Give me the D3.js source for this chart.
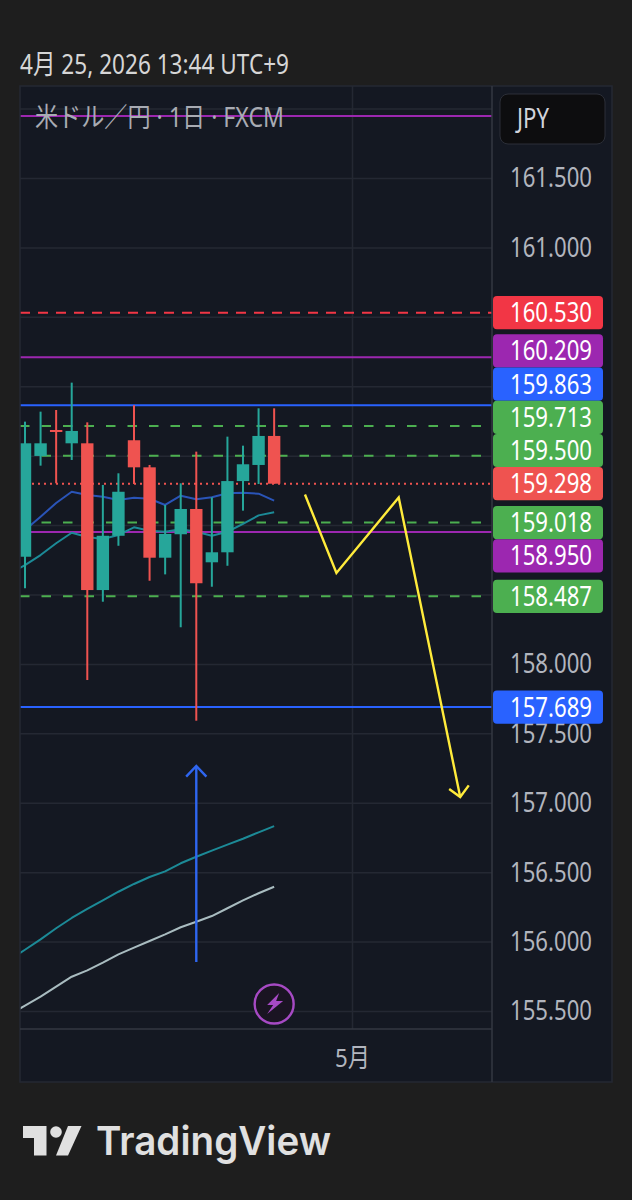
<!DOCTYPE html>
<html>
<head>
<meta charset="utf-8">
<script src="https://cdn.jsdelivr.net/npm/d3@7"></script>
<style>
  html, body { margin: 0; padding: 0; background: #1e1e1e; }
  svg { display: block; }
  text { font-family: "Noto Sans", "Noto Sans CJK JP", sans-serif; }
</style>
</head>
<body>
<div id="chart"></div>
<script>
// candles, oldest first (daily USD/JPY)
const opens  = [158.772, 159.498, 159.685, 159.589, 159.589, 158.532, 158.923, 159.611, 159.416, 158.765, 158.934, 159.116, 158.732, 158.804, 159.317, 159.433, 159.642];
const highs  = [159.745, 159.817, 159.829, 160.026, 159.740, 159.289, 159.373, 159.863, 159.433, 159.145, 159.301, 159.529, 159.200, 159.637, 159.572, 159.841, 159.841];
const lows   = [158.545, 159.428, 159.301, 159.469, 157.884, 158.448, 158.851, 159.296, 158.599, 158.645, 158.264, 157.591, 158.556, 158.707, 159.104, 159.296, 159.298];
const closes = [159.589, 159.589, 159.678, 159.678, 158.532, 158.923, 159.240, 159.416, 158.765, 158.936, 159.116, 158.581, 158.804, 159.317, 159.438, 159.642, 159.298];

// moving averages; the ones starting at -1 run off the left edge of the pane
const maBlue = [158.965, 159.060, 159.159, 159.240, 159.217, 159.204, 159.181, 159.197, 159.190, 159.145, 159.212, 159.186, 159.200, 159.229, 159.233, 159.226, 159.176];
const maTeal = [158.648, 158.712, 158.784, 158.869, 158.945, 158.914, 158.900, 158.929, 158.984, 158.959, 158.952, 158.970, 158.952, 158.923, 158.952, 159.008, 159.070, 159.092];
const maLong = [155.869, 155.941, 156.016, 156.096, 156.170, 156.235, 156.297, 156.359, 156.415, 156.465, 156.506, 156.564, 156.611, 156.655, 156.698, 156.741, 156.787, 156.832];
const maGray = [155.476, 155.538, 155.603, 155.675, 155.747, 155.793, 155.848, 155.908, 155.956, 156.004, 156.052, 156.103, 156.143, 156.184, 156.240, 156.297, 156.348, 156.395];

const gridPrices = [155.5, 156, 156.5, 157, 157.5, 158, 158.5, 159, 159.5, 160, 160.5, 161, 161.5, 162];
const tickPrices = [155.5, 156, 156.5, 157, 157.5, 158, 161, 161.5];

const linePrices = [161.947, 160.530, 160.209, 159.863, 159.713, 159.500, 159.298, 159.018, 158.950, 158.487, 157.689];
const lineKinds  = ["purple", "red", "purple", "blue", "green", "green", "last", "green", "purple", "green", "blue"];
const lastPrice = 159.298;

// hand drawn lines as [bar index, price]
const zigzag = [[17.98, 159.220], [20, 158.655], [24, 159.199], [27.95, 157.041]];
const zigzagHead = [[27.24, 157.099], [27.95, 157.041], [28.5, 157.125]];
const upArrow = [[11, 155.853], [11, 157.265]];
const upArrowHead = [[10.35, 157.188], [11, 157.265], [11.65, 157.188]];

const monthIndex = 21;
const monthLabel = "5月";
const eventIndex = 16;

const colors = {
  purple: "#9c27b0", red: "#f23645", blue: "#2962ff", green: "#4caf50", last: "#ef5350",
  up: "#26a69a", down: "#ef5350", grid: "#242833", border: "#333742", tick: "#b2b5be"
};

const W = 632, H = 1200;
const paneLeft = 20, paneRight = 612, paneTop = 86, paneBottom = 1082, axisX = 492, axisY = 1029;

const svg = d3.select("#chart").append("svg").attr("width", W).attr("height", H);

const x = d3.scaleLinear().domain([0, monthIndex]).range([25, 352]);
const y = d3.scaleLinear().domain([155.5, 161.5]).range([1011, 178]);

// squeezes text to the width it has in the picture
const fit = (sel, w) => sel.attr("textLength", w).attr("lengthAdjust", "spacingAndGlyphs");

svg.append("rect").attr("x", paneLeft).attr("y", paneTop).attr("width", paneRight - paneLeft).attr("height", paneBottom - paneTop).attr("fill", "#141822");

svg.append("clipPath").attr("id", "pane").append("rect")
  .attr("x", paneLeft).attr("y", paneTop).attr("width", axisX - paneLeft).attr("height", axisY - paneTop);

const pane = svg.append("g").attr("clip-path", "url(#pane)");

// grid
const gridY = pane.append("g").attr("transform", `translate(${paneLeft},0)`)
  .call(d3.axisRight(y).tickValues(gridPrices).tickSize(axisX - paneLeft).tickFormat(""));
gridY.select(".domain").remove();
gridY.selectAll("line").attr("stroke", colors.grid).attr("stroke-width", 1.5);

const gridX = pane.append("g").attr("transform", `translate(0,${paneTop})`)
  .call(d3.axisBottom(x).tickValues([monthIndex]).tickSize(axisY - paneTop).tickFormat(""));
gridX.select(".domain").remove();
gridX.selectAll("line").attr("stroke", colors.grid).attr("stroke-width", 1.5);

// horizontal price lines
const dashes = { green: "9.5 12", red: "10 8", last: "2 4" };
pane.append("g").selectAll("line").data(linePrices).join("line")
  .attr("x1", paneLeft).attr("x2", axisX)
  .attr("y1", d => y(d)).attr("y2", d => y(d))
  .attr("stroke", (d, i) => colors[lineKinds[i]])
  .attr("stroke-width", 2)
  .attr("stroke-dasharray", (d, i) => dashes[lineKinds[i]] || null);

// moving averages
const maLine = d3.line().x(d => x(d[0])).y(d => y(d[1])).curve(d3.curveLinear);
const addMa = (values, start, color, width) => pane.append("path")
  .datum(values.map((v, i) => [i + start, v]))
  .attr("d", maLine).attr("fill", "none").attr("stroke", color)
  .attr("stroke-width", width).attr("stroke-linejoin", "round");

addMa(maLong, -1, "#1c8a97", 2);
addMa(maGray, -1, "#a9bcc0", 2);
addMa(maBlue, 0, "#2a54b8", 2);
addMa(maTeal, -1, "#1c8a97", 2);

// candles
const bars = pane.append("g").selectAll("g").data(opens).join("g")
  .attr("fill", (d, i) => closes[i] >= d ? colors.up : colors.down);
bars.append("rect")
  .attr("x", (d, i) => x(i) - 1).attr("width", 2)
  .attr("y", (d, i) => y(highs[i]))
  .attr("height", (d, i) => y(lows[i]) - y(highs[i]));
bars.append("rect")
  .attr("x", (d, i) => x(i) - 6.2).attr("width", 12.4)
  .attr("y", (d, i) => y(Math.max(d, closes[i])))
  .attr("height", (d, i) => Math.max(2, Math.abs(y(d) - y(closes[i]))));

// hand drawn arrows
const drawLine = d3.line().x(d => x(d[0])).y(d => y(d[1]));
const addDrawing = (pts, color) => svg.append("path").attr("d", drawLine(pts))
  .attr("fill", "none").attr("stroke", color).attr("stroke-width", 2.4).attr("stroke-linejoin", "miter");

addDrawing(upArrow, "#2f66f0");
addDrawing(upArrowHead, "#2f66f0");
addDrawing(zigzag, "#ffeb3b");
addDrawing(zigzagHead, "#ffeb3b");

// event marker on the last bar
const eventMark = svg.append("g").attr("transform", `translate(${x(eventIndex)},1004)`);
eventMark.append("circle").attr("r", 19.5).attr("fill", "#1a1422").attr("stroke", "#a64ac4").attr("stroke-width", 2.4);
eventMark.append("path")
  .attr("d", "M5 -11 L-7 1 L-1 1 L-7 10 L9 -3 L2 -3 Z")
  .attr("fill", "#a64ac4");

// frame
svg.append("rect").attr("x", paneLeft).attr("y", paneTop).attr("width", paneRight - paneLeft).attr("height", paneBottom - paneTop)
  .attr("fill", "none").attr("stroke", colors.grid).attr("stroke-width", 1.5);
svg.append("line").attr("x1", axisX).attr("x2", axisX).attr("y1", paneTop).attr("y2", paneBottom).attr("stroke", colors.border).attr("stroke-width", 1.5);
svg.append("line").attr("x1", paneLeft).attr("x2", axisX).attr("y1", axisY).attr("y2", axisY).attr("stroke", colors.border).attr("stroke-width", 1.5);

// price axis
const yAxis = svg.append("g").attr("transform", "translate(592,0)")
  .call(d3.axisLeft(y).tickValues(tickPrices).tickSize(0).tickPadding(0).tickFormat(d3.format(".3f")));
yAxis.select(".domain").remove();
yAxis.selectAll("text").attr("fill", colors.tick).attr("font-size", 28);
yAxis.attr("font-family", null);
fit(yAxis.selectAll("text"), 82);

// time axis
const xAxis = svg.append("g").attr("transform", "translate(0,1049)")
  .call(d3.axisBottom(x).tickValues([monthIndex]).tickSize(0).tickPadding(0).tickFormat(() => monthLabel));
xAxis.select(".domain").remove();
xAxis.selectAll("text").attr("fill", colors.tick).attr("font-size", 26);
xAxis.attr("font-family", null);
fit(xAxis.selectAll("text"), 35);

// price labels: spread away from the last price so they do not overlap
const labelH = 33.2;
const labelData = linePrices.map((p, i) => ({ price: p, kind: lineKinds[i], pos: y(p) })).filter(d => d.pos > paneTop + 60);
const above = labelData.filter(d => d.price >= lastPrice).sort((a, b) => a.price - b.price);
const below = labelData.filter(d => d.price < lastPrice).sort((a, b) => b.price - a.price);
above.forEach((d, i) => { if (i) d.pos = Math.min(d.pos, above[i - 1].pos - labelH); });
below.forEach((d, i) => { if (i) d.pos = Math.max(d.pos, below[i - 1].pos + labelH); });

const labels = svg.append("g").selectAll("g").data(labelData).join("g")
  .attr("transform", d => `translate(493,${d.pos})`);
labels.append("rect")
  .attr("y", -labelH / 2).attr("width", 110).attr("height", labelH).attr("rx", 4)
  .attr("fill", d => colors[d.kind]);
const labelText = labels.append("text")
  .attr("x", 99).attr("dy", "0.34em").attr("text-anchor", "end")
  .attr("font-size", 28).attr("fill", "#fff")
  .text(d => d3.format(".3f")(d.price));
fit(labelText, 82);

// currency button
svg.append("rect").attr("x", 500).attr("y", 94).attr("width", 105).attr("height", 50).attr("rx", 8)
  .attr("fill", "#0d0d0f").attr("stroke", "#2c2f38").attr("stroke-width", 1);
fit(svg.append("text").attr("x", 517).attr("y", 128).attr("font-size", 28).attr("fill", "#d1d4dc").text("JPY"), 32);

// titles
fit(svg.append("text").attr("x", 20).attr("y", 74).attr("font-size", 27).attr("fill", "#d6d6d6")
  .text("4月 25, 2026 13:44 UTC+9"), 269);
fit(svg.append("text").attr("x", 35).attr("y", 127).attr("font-size", 27).attr("fill", "#a8abb3")
  .text("米ドル／円 · 1日 · FXCM"), 249);

// TradingView logo
const logo = svg.append("g").attr("transform", "translate(23,1126)").attr("fill", "#e0e0e0");
logo.append("path").attr("d", "M0 0 H23.5 V29.5 H11 V12 H0 Z");
logo.append("circle").attr("cx", 33).attr("cy", 6).attr("r", 5.8);
logo.append("path").attr("d", "M45 0 H58.5 L45 29.5 H33 Z");
fit(svg.append("text").attr("x", 96).attr("y", 1155)
  .attr("font-size", 40).attr("font-weight", 600).attr("fill", "#e0e0e0")
  .style("font-family", "Inter, sans-serif").text("TradingView"), 235);
</script>
</body>
</html>
